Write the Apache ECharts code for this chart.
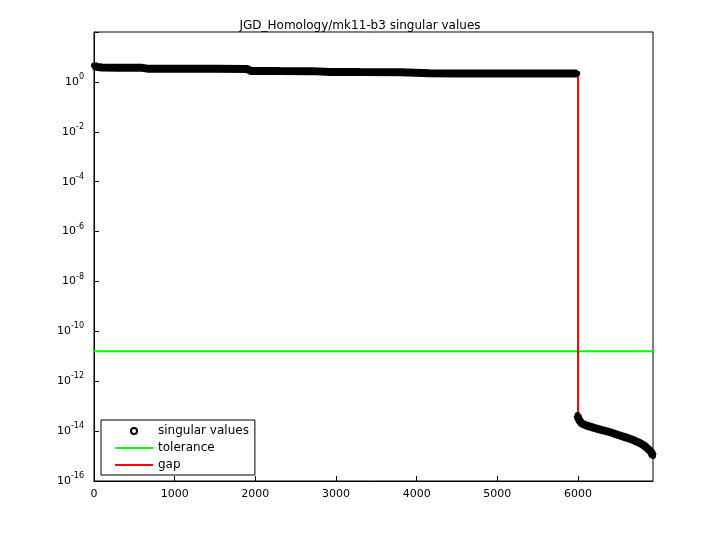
<!DOCTYPE html>
<html><head><meta charset="utf-8">
<script src="https://cdn.jsdelivr.net/npm/echarts@6/dist/echarts.min.js"></script>
<style>html,body{margin:0;background:#fff}#main{width:720px;height:540px}</style>
</head><body><div id="main"></div>
<script>
var app = echarts.init(document.getElementById('main'));

var title = 'JGD_Homology/mk11-b3 singular values';
// singular values (index, value)
var sv_idx = [0, 30, 100, 300, 600, 660, 1000, 1500, 1900, 1940, 2300, 2700, 2930, 3300, 3800, 4160, 4500, 5000, 5500, 5990,
              5995, 6000, 6020, 6050, 6100, 6200, 6300, 6400, 6500, 6600, 6700, 6770, 6830, 6880, 6910, 6930];
var sv_val = [4.5, 4.0, 3.8, 3.7, 3.65, 3.4, 3.38, 3.35, 3.3, 2.75, 2.72, 2.7, 2.5, 2.47, 2.45, 2.2, 2.18, 2.17, 2.16, 2.15,
              4.4e-14, 3.5e-14, 2.6e-14, 2e-14, 1.7e-14, 1.35e-14, 1.1e-14, 9e-15, 7e-15, 5.5e-15, 4.2e-15, 3.3e-15, 2.5e-15, 1.8e-15, 1.4e-15, 1.0e-15];
var tol = 1.6e-11;
var tol_x = [0, 6930];
var gap_x = [6000, 6000];
var gap_y = [2.15, 4.4e-14];

function sup(v) {
  var e = Math.round(Math.log10(v));
  return '10{e|' + e + '}';
}

var sv1 = [], sv2 = [];
for (var i = 0; i < sv_idx.length; i++) {
  (sv_val[i] > 1e-5 ? sv1 : sv2).push([sv_idx[i], sv_val[i]]);
}
var lineIcon = 'path://M0,0H100V5H0Z';

option = {
    animation: false,
    title: {text: title, left: 'center', top: 15, textStyle: {fontSize: 12, fontWeight: 'normal', fontFamily: 'DejaVu Sans', color: '#000'}},
    grid: {left: 94, right: 67, top: 32, bottom: 59, show: true, borderColor: '#000', borderWidth: 1},
    xAxis: {
        type: 'value', min: 0, max: 6930, interval: 1000,
        axisLine: {lineStyle: {color: '#000'}},
        axisTick: {inside: true, length: 5, lineStyle: {color: '#000'}},
        axisLabel: {color: '#000', fontSize: 11, fontFamily: 'DejaVu Sans', margin: 8, showMaxLabel: false,
            formatter: function (v) { return String(v); }},
        splitLine: {show: false}
    },
    yAxis: {
        type: 'log', logBase: 100, min: 1e-16, max: 1e2,
        axisLine: {show: true, lineStyle: {color: '#000'}},
        axisTick: {inside: true, length: 5, lineStyle: {color: '#000'}},
        minorTick: {show: false},
        axisLabel: {color: '#000', fontSize: 11, fontFamily: 'DejaVu Sans', margin: 10,
            formatter: function (v) { return v >= 99 ? '' : sup(v); },
            rich: {e: {fontSize: 8, verticalAlign: 'top', padding: [0, 0, 10, 0], fontFamily: 'DejaVu Sans'}}},
        splitLine: {show: false}
    },
    legend: {
        orient: 'vertical', left: 101, top: 420, itemGap: 5,
        backgroundColor: '#fff', borderColor: '#000', borderWidth: 1, padding: [5, 6, 4, 14],
        itemWidth: 38, itemHeight: 6,
        textStyle: {fontSize: 12, fontFamily: 'DejaVu Sans', color: '#000'},
        data: [
            {name: 'singular values', icon: 'circle', itemStyle: {color: '#fff', borderColor: '#000', borderWidth: 2}},
            {name: 'tolerance', icon: lineIcon, itemStyle: {color: '#00ff00', borderWidth: 0}},
            {name: 'gap', icon: lineIcon, itemStyle: {color: '#ff0000', borderWidth: 0}}
        ]
    },
    series: [
        {name: 'singular values', type: 'line', data: sv1, symbol: 'circle', symbolSize: 6,
         itemStyle: {color: '#000'}, lineStyle: {color: '#000', width: 8}, z: 3},
        {name: 'singular values', type: 'line', data: sv2, symbol: 'circle', symbolSize: 6,
         itemStyle: {color: '#000'}, lineStyle: {color: '#000', width: 8}, z: 3},
        {name: 'tolerance', type: 'line', data: tol_x.map(function (x) { return [x, tol]; }), symbol: 'none',
         itemStyle: {color: '#00ff00'}, lineStyle: {color: '#00ff00', width: 2}},
        {name: 'gap', type: 'line', data: gap_x.map(function (x, i) { return [x, gap_y[i]]; }), symbol: 'none',
         itemStyle: {color: '#ff0000'}, lineStyle: {color: '#ff0000', width: 2}}
    ]
};

app.setOption(option);
</script></body></html>
